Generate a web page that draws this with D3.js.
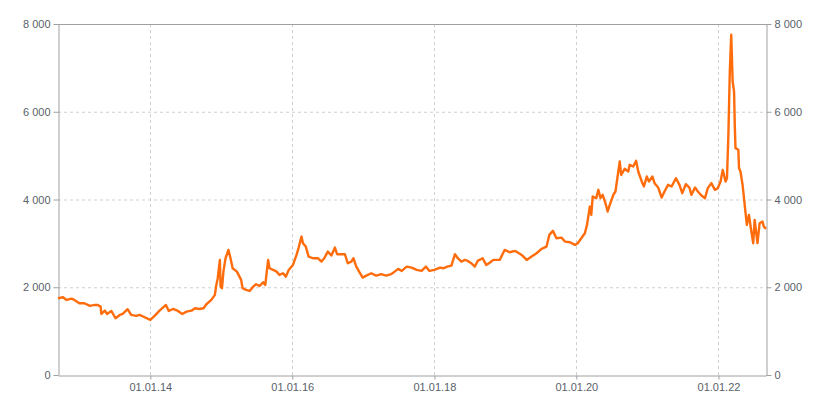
<!DOCTYPE html>
<html>
<head>
<meta charset="utf-8">
<script src="https://cdn.jsdelivr.net/npm/d3@7"></script>
<style>
  html, body { margin: 0; padding: 0; background: #fff; }
  svg { display: block; font-family: "Liberation Sans", Arial, sans-serif; }
</style>
</head>
<body>
<svg id="chart" width="825" height="400"></svg>
<script>
// Decimal-year positions of the sampled points
const years = [
  2012.70, 2012.77, 2012.82, 2012.89, 2012.93, 2013.00, 2013.07, 2013.15, 2013.22, 2013.26,
  2013.30, 2013.31, 2013.36, 2013.39, 2013.45, 2013.51, 2013.57, 2013.61, 2013.68, 2013.73,
  2013.80, 2013.85, 2013.92, 2014.00, 2014.06, 2014.13, 2014.22, 2014.26, 2014.32, 2014.39,
  2014.45, 2014.51, 2014.58, 2014.63, 2014.69, 2014.75, 2014.79, 2014.86, 2014.91, 2014.93,
  2014.95, 2014.98, 2014.99, 2015.01, 2015.03, 2015.06, 2015.10, 2015.13, 2015.16, 2015.22,
  2015.28, 2015.30, 2015.35, 2015.40, 2015.45, 2015.49, 2015.54, 2015.59, 2015.62, 2015.66,
  2015.68, 2015.73, 2015.78, 2015.82, 2015.87, 2015.91, 2015.95, 2016.01, 2016.06, 2016.09,
  2016.13, 2016.15, 2016.19, 2016.23, 2016.29, 2016.36, 2016.41, 2016.45, 2016.50, 2016.55,
  2016.60, 2016.63, 2016.69, 2016.74, 2016.78, 2016.83, 2016.86, 2016.90, 2016.94, 2016.99,
  2017.04, 2017.11, 2017.18, 2017.25, 2017.32, 2017.39, 2017.44, 2017.49, 2017.54, 2017.61,
  2017.68, 2017.75, 2017.82, 2017.88, 2017.93, 2018.00, 2018.08, 2018.13, 2018.18, 2018.24,
  2018.29, 2018.33, 2018.38, 2018.43, 2018.47, 2018.52, 2018.57, 2018.61, 2018.68, 2018.73,
  2018.77, 2018.83, 2018.92, 2018.99, 2019.06, 2019.14, 2019.23, 2019.30, 2019.37, 2019.44,
  2019.51, 2019.58, 2019.62, 2019.67, 2019.72, 2019.79, 2019.84, 2019.91, 2019.98, 2020.02,
  2020.07, 2020.12, 2020.15, 2020.19, 2020.21, 2020.23, 2020.28, 2020.31, 2020.34, 2020.37,
  2020.41, 2020.44, 2020.47, 2020.52, 2020.55, 2020.59, 2020.61, 2020.63, 2020.68, 2020.73,
  2020.75, 2020.80, 2020.84, 2020.87, 2020.92, 2020.95, 2020.99, 2021.02, 2021.07, 2021.10,
  2021.15, 2021.20, 2021.24, 2021.29, 2021.34, 2021.40, 2021.45, 2021.49, 2021.54, 2021.59,
  2021.62, 2021.67, 2021.71, 2021.76, 2021.81, 2021.85, 2021.90, 2021.95, 2021.99, 2022.03,
  2022.06, 2022.10, 2022.12, 2022.14, 2022.16, 2022.18, 2022.20, 2022.22, 2022.23, 2022.24,
  2022.28, 2022.29, 2022.31, 2022.34, 2022.36, 2022.38, 2022.40, 2022.43, 2022.46, 2022.49,
  2022.51, 2022.55, 2022.58, 2022.62, 2022.64, 2022.67
];
const values = [
  1750, 1772, 1711, 1741, 1711, 1635, 1635, 1574, 1597, 1597,
  1559, 1391, 1467, 1391, 1460, 1293, 1369, 1391, 1499, 1369,
  1346, 1369, 1316, 1255, 1346, 1467, 1597, 1460, 1505, 1460,
  1391, 1444, 1467, 1521, 1505, 1521, 1612, 1711, 1825, 2053,
  2205, 2623, 2014, 1977, 2356, 2661, 2851, 2661, 2433, 2356,
  2167, 1977, 1939, 1916, 2014, 2069, 2030, 2114, 2053, 2623,
  2433, 2395, 2356, 2281, 2319, 2242, 2395, 2509, 2737, 2904,
  3155, 3004, 2927, 2699, 2661, 2661, 2585, 2661, 2813, 2722,
  2904, 2753, 2753, 2753, 2547, 2585, 2661, 2471, 2356, 2220,
  2265, 2319, 2265, 2297, 2265, 2297, 2356, 2418, 2372, 2471,
  2448, 2395, 2372, 2471, 2372, 2395, 2448, 2433, 2471, 2494,
  2753, 2661, 2585, 2623, 2600, 2547, 2471, 2600, 2661, 2509,
  2547, 2623, 2623, 2851, 2798, 2828, 2737, 2623, 2699, 2775,
  2874, 2927, 3193, 3285, 3118, 3132, 3041, 3027, 2965, 3004,
  3118, 3232, 3421, 3839, 3650, 4067, 4030, 4220, 4030, 4106,
  3916, 3725, 3878, 4106, 4182, 4638, 4866, 4562, 4699, 4638,
  4790, 4752, 4881, 4638, 4410, 4296, 4524, 4410, 4524, 4373,
  4273, 4045, 4182, 4334, 4296, 4486, 4334, 4144, 4349, 4273,
  4106, 4273, 4182, 4090, 4030, 4258, 4373, 4220, 4258, 4410,
  4676, 4410, 4486, 5474, 6918, 7756, 6690, 6462, 5703, 5171,
  5132, 4714, 4638, 4334, 4030, 3725, 3421, 3650, 3307, 3004,
  3536, 3004, 3460, 3497, 3383, 3330
];
const xTickDates = ["2014-01-01", "2016-01-01", "2018-01-01", "2020-01-01", "2022-01-01"];
const yTickValues = [0, 2000, 4000, 6000, 8000];

function decYearToDate(y) {
  const yr = Math.floor(y);
  const start = Date.UTC(yr, 0, 1), end = Date.UTC(yr + 1, 0, 1);
  return new Date(start + (y - yr) * (end - start));
}
const data = years.map((y, i) => ({ date: decYearToDate(y), value: values[i] }));

const margin = { left: 58, right: 59, top: 24, bottom: 25 };
const W = 825, H = 400;
const svg = d3.select("#chart");
const x = d3.scaleUtc()
  .domain(d3.extent(data, d => d.date))
  .range([margin.left, W - margin.right]);
const y = d3.scaleLinear().domain([0, 8000]).range([H - margin.bottom, margin.top]);

const locale = d3.formatLocale({ decimal: ",", thousands: " ", grouping: [3], currency: ["", ""] });
const fmtY = locale.format(",.0f");
const fmtX = d3.utcFormat("%d.%m.%y");
const xTicks = xTickDates.map(s => new Date(s + "T00:00:00Z"));

const textColor = "#5a5f6a";
const axisColor = "#a0a0a0";
const gridColor = "#cfcfcf";

// Grid
const grid = svg.append("g");
grid.selectAll("line.h").data(yTickValues.filter(v => v > 0 && v < 8000)).join("line")
  .attr("x1", margin.left).attr("x2", W - margin.right)
  .attr("y1", d => y(d) + 0.5).attr("y2", d => y(d) + 0.5)
  .attr("stroke", gridColor).attr("stroke-dasharray", "3,3");
grid.selectAll("line.v").data(xTicks).join("line")
  .attr("x1", d => Math.round(x(d)) + 0.5).attr("x2", d => Math.round(x(d)) + 0.5)
  .attr("y1", margin.top).attr("y2", H - margin.bottom)
  .attr("stroke", gridColor).attr("stroke-dasharray", "3,3");

// Axes
function styleAxis(g) {
  g.select(".domain").attr("stroke", axisColor);
  g.selectAll(".tick line").attr("stroke", axisColor);
  g.selectAll(".tick text").attr("fill", textColor).attr("font-size", 11)
    .attr("font-family", "'Liberation Sans', Arial, sans-serif");
}
svg.append("g").attr("transform", `translate(${margin.left + 0.5},0)`)
  .call(d3.axisLeft(y).tickValues(yTickValues).tickFormat(fmtY).tickSize(5).tickSizeOuter(0).tickPadding(3))
  .call(styleAxis);
svg.append("g").attr("transform", `translate(${W - margin.right + 0.5},0)`)
  .call(d3.axisRight(y).tickValues(yTickValues).tickFormat(fmtY).tickSize(5).tickSizeOuter(0).tickPadding(3))
  .call(styleAxis);
svg.append("g").attr("transform", `translate(0,${H - margin.bottom + 0.5})`)
  .call(d3.axisBottom(x).tickValues(xTicks).tickFormat(fmtX).tickSize(4).tickSizeOuter(0).tickPadding(4))
  .call(styleAxis);
// Top border
svg.append("line")
  .attr("x1", margin.left).attr("x2", W - margin.right + 1)
  .attr("y1", margin.top + 0.5).attr("y2", margin.top + 0.5)
  .attr("stroke", axisColor);

// Line
svg.append("path").datum(data)
  .attr("fill", "none")
  .attr("stroke", "#ff6c0c")
  .attr("stroke-width", 2.4)
  .attr("stroke-linejoin", "round")
  .attr("d", d3.line().x(d => x(d.date)).y(d => y(d.value)));
</script>
</body>
</html>
